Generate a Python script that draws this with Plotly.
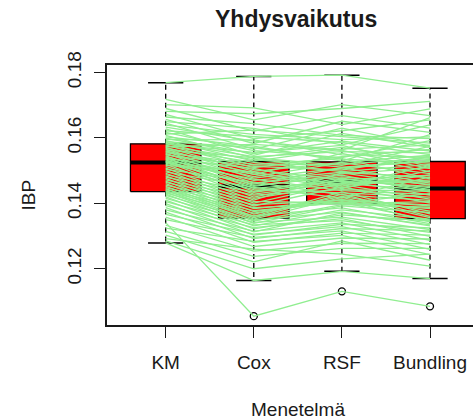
import plotly.graph_objects as go

# Methods compared
methods = ["KM", "Cox", "RSF", "Bundling"]

# Integrated Brier score per data split, one value per method
ibp_km = [0.1769, 0.1718, 0.1702, 0.1690, 0.1681, 0.1672, 0.1664, 0.1657, 0.1650, 0.1645,
          0.1639, 0.1633, 0.1628, 0.1622, 0.1617, 0.1612, 0.1608, 0.1603, 0.1599, 0.1595,
          0.1592, 0.1589, 0.1586, 0.1584,
          0.1581, 0.1578, 0.1576, 0.1573, 0.1571, 0.1568, 0.1566, 0.1563, 0.1560, 0.1558,
          0.1555, 0.1553, 0.1550, 0.1548, 0.1545, 0.1542, 0.1540, 0.1537, 0.1535, 0.1533,
          0.1530, 0.1528, 0.1527, 0.1526,
          0.1523, 0.1520, 0.1516, 0.1512, 0.1508, 0.1504, 0.1500, 0.1496, 0.1492, 0.1488,
          0.1484, 0.1480, 0.1476, 0.1472, 0.1468, 0.1464, 0.1460, 0.1456, 0.1452, 0.1448,
          0.1445, 0.1442, 0.1439, 0.1437,
          0.1434, 0.1431, 0.1428, 0.1424, 0.1420, 0.1415, 0.1410, 0.1405, 0.1399, 0.1393,
          0.1387, 0.1380, 0.1373, 0.1366, 0.1358, 0.1350, 0.1341, 0.1333, 0.1324, 0.1314,
          0.1303, 0.1292, 0.1285, 0.1279]
ibp_cox = [0.1788, 0.1655, 0.1692, 0.1621, 0.1674, 0.1598, 0.1644, 0.1583, 0.1629, 0.1566,
           0.1611, 0.1590, 0.1547, 0.1603, 0.1561, 0.1624, 0.1538, 0.1575, 0.1552, 0.1594,
           0.1529, 0.1570, 0.1543, 0.1517,
           0.1556, 0.1509, 0.1534, 0.1580, 0.1498, 0.1525, 0.1488, 0.1540, 0.1503, 0.1477,
           0.1519, 0.1462, 0.1493, 0.1513, 0.1455, 0.1482, 0.1446, 0.1507, 0.1470, 0.1437,
           0.1489, 0.1452, 0.1428, 0.1474,
           0.1459, 0.1419, 0.1496, 0.1442, 0.1410, 0.1465, 0.1401, 0.1449, 0.1392, 0.1434,
           0.1384, 0.1425, 0.1375, 0.1415, 0.1367, 0.1406, 0.1360, 0.1396, 0.1356, 0.1387,
           0.1352, 0.1378, 0.1346, 0.1370,
           0.1339, 0.1362, 0.1331, 0.1349, 0.1322, 0.1342, 0.1313, 0.1334, 0.1303, 0.1326,
           0.1292, 0.1315, 0.1281, 0.1306, 0.1268, 0.1296, 0.1055, 0.1254, 0.1284, 0.1238,
           0.1221, 0.1260, 0.1200, 0.1164]
ibp_rsf = [0.1792, 0.1702, 0.1641, 0.1668, 0.1690, 0.1622, 0.1608, 0.1651, 0.1579, 0.1630,
           0.1595, 0.1563, 0.1614, 0.1586, 0.1540, 0.1604, 0.1571, 0.1529, 0.1590, 0.1548,
           0.1566, 0.1535, 0.1558, 0.1520,
           0.1577, 0.1543, 0.1511, 0.1562, 0.1525, 0.1497, 0.1553, 0.1516, 0.1472, 0.1508,
           0.1537, 0.1490, 0.1459, 0.1502, 0.1481, 0.1524, 0.1468, 0.1453, 0.1495, 0.1477,
           0.1445, 0.1486, 0.1463, 0.1439,
           0.1509, 0.1474, 0.1449, 0.1432, 0.1493, 0.1426, 0.1461, 0.1416, 0.1450, 0.1470,
           0.1411, 0.1442, 0.1405, 0.1457, 0.1421, 0.1401, 0.1435, 0.1408, 0.1428, 0.1399,
           0.1418, 0.1403, 0.1396, 0.1412,
           0.1392, 0.1386, 0.1380, 0.1373, 0.1365, 0.1358, 0.1371, 0.1347, 0.1336, 0.1353,
           0.1323, 0.1340, 0.1309, 0.1329, 0.1294, 0.1316, 0.1131, 0.1278, 0.1302, 0.1262,
           0.1285, 0.1245, 0.1230, 0.1192]
ibp_bundling = [0.1752, 0.1668, 0.1689, 0.1630, 0.1712, 0.1655, 0.1598, 0.1617, 0.1640, 0.1576,
                0.1603, 0.1662, 0.1571, 0.1549, 0.1592, 0.1584, 0.1533, 0.1610, 0.1560, 0.1541,
                0.1578, 0.1523, 0.1554, 0.1537,
                0.1512, 0.1565, 0.1528, 0.1506, 0.1547, 0.1519, 0.1496, 0.1574, 0.1486, 0.1531,
                0.1475, 0.1509, 0.1466, 0.1544, 0.1458, 0.1491, 0.1452, 0.1516, 0.1479, 0.1443,
                0.1500, 0.1434, 0.1471, 0.1427,
                0.1462, 0.1448, 0.1487, 0.1419, 0.1456, 0.1409, 0.1440, 0.1481, 0.1401, 0.1425,
                0.1392, 0.1437, 0.1384, 0.1413, 0.1376, 0.1430, 0.1368, 0.1395, 0.1360, 0.1405,
                0.1356, 0.1349, 0.1388, 0.1343,
                0.1372, 0.1338, 0.1352, 0.1331, 0.1346, 0.1320, 0.1334, 0.1311, 0.1325, 0.1299,
                0.1316, 0.1287, 0.1303, 0.1274, 0.1291, 0.1259, 0.1085, 0.1277, 0.1243, 0.1262,
                0.1226, 0.1208, 0.1245, 0.1170]

# Box-and-whisker summaries per method
q1 = [0.1436, 0.1355, 0.1399, 0.1353]
median = [0.1525, 0.1452, 0.1467, 0.1445]
q3 = [0.1582, 0.1528, 0.1527, 0.1528]
whisker_low = [0.1279, 0.1164, 0.1192, 0.1170]
whisker_high = [0.1769, 0.1788, 0.1792, 0.1752]
outliers = [[], [0.1055], [0.1131], [0.1085]]

y_ticks = [0.12, 0.14, 0.16, 0.18]
y_tick_text = ["0.12", "0.14", "0.16", "0.18"]

pos = [1, 2, 3, 4]
half_box = 0.4
half_cap = 0.2
FONT = "Liberation Sans, Arial, sans-serif"
INK = "#1a1a1a"

fig = go.Figure()

for i, p in enumerate(pos):
    # box body
    fig.add_trace(go.Scatter(
        x=[p - half_box, p + half_box, p + half_box, p - half_box, p - half_box],
        y=[q1[i], q1[i], q3[i], q3[i], q1[i]],
        mode="lines", fill="toself", fillcolor="#ff0000",
        line=dict(color="black", width=1.3), hoverinfo="skip", showlegend=False))
    # median
    fig.add_trace(go.Scatter(
        x=[p - half_box, p + half_box], y=[median[i], median[i]],
        mode="lines", line=dict(color="black", width=4),
        hoverinfo="skip", showlegend=False))
    # dashed whiskers
    fig.add_trace(go.Scatter(
        x=[p, p, None, p, p],
        y=[q3[i], whisker_high[i], None, q1[i], whisker_low[i]],
        mode="lines", line=dict(color="black", width=1.3, dash="5px,4px"),
        hoverinfo="skip", showlegend=False))
    # staples
    fig.add_trace(go.Scatter(
        x=[p - half_cap, p + half_cap, None, p - half_cap, p + half_cap],
        y=[whisker_high[i], whisker_high[i], None, whisker_low[i], whisker_low[i]],
        mode="lines", line=dict(color="black", width=1.5),
        hoverinfo="skip", showlegend=False))
    # outlying points
    if outliers[i]:
        fig.add_trace(go.Scatter(
            x=[p] * len(outliers[i]), y=outliers[i], mode="markers",
            marker=dict(symbol="circle-open", size=7, color="black",
                        line=dict(width=1.3, color="black")),
            hoverinfo="skip", showlegend=False))

# interaction lines: one path per split across the four methods
xs, ys = [], []
for vals in zip(ibp_km, ibp_cox, ibp_rsf, ibp_bundling):
    xs += pos + [None]
    ys += list(vals) + [None]
fig.add_trace(go.Scatter(x=xs, y=ys, mode="lines",
                         line=dict(color="#90ee90", width=1.3),
                         hoverinfo="skip", showlegend=False))

fig.update_layout(
    width=473, height=420,
    margin=dict(l=107, r=0, t=65, b=95),
    paper_bgcolor="white", plot_bgcolor="white",
    font=dict(family=FONT, size=19, color=INK),
    showlegend=False,
    xaxis=dict(range=[0.334, 4.488], tickvals=pos, ticktext=methods,
               showgrid=False, zeroline=False,
               showline=True, mirror=True, linecolor=INK, linewidth=1.5,
               ticks="outside", ticklen=11, tickwidth=1.3, tickcolor=INK,
               ticklabelstandoff=8),
    yaxis=dict(range=[0.1028, 0.1823], tickvals=y_ticks, ticktext=y_tick_text,
               tickangle=-90, showgrid=False, zeroline=False,
               showline=True, mirror=False, linecolor=INK, linewidth=1.5,
               ticks="outside", ticklen=11, tickwidth=1.3, tickcolor=INK,
               ticklabelstandoff=6),
    annotations=[
        dict(text="<b>Yhdysvaikutus</b>", xref="paper", yref="paper",
             x=(295.5 - 107) / 366, y=(325 - 19) / 260, xanchor="center", yanchor="middle",
             showarrow=False, font=dict(size=23, family=FONT, color=INK)),
        dict(text="Menetelmä", xref="paper", yref="paper",
             x=(297.5 - 107) / 366, y=(325 - 409) / 260, xanchor="center", yanchor="middle",
             showarrow=False, font=dict(size=19, family=FONT, color=INK)),
        dict(text="IBP", xref="paper", yref="paper", textangle=-90,
             x=(27.5 - 107) / 366, y=0.5, xanchor="center", yanchor="middle",
             showarrow=False, font=dict(size=19, family=FONT, color=INK)),
    ],
)

fig.write_html("out.html")
